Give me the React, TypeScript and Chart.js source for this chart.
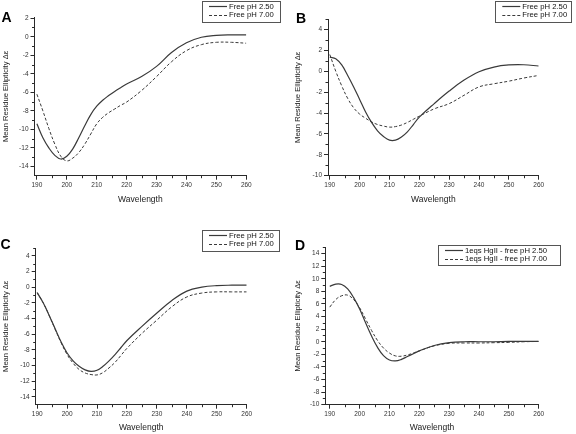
import React, { useEffect, useRef } from "react";
import { Chart, registerables } from "chart.js";

Chart.register(...registerables);

const FONT = "'Liberation Sans', Arial, Helvetica, sans-serif";
Chart.defaults.font.family = FONT;

// ---------------- data ----------------
const wavelengths = [190, 192, 194, 196, 198, 200, 202, 204, 206, 208, 210, 212, 214, 216, 218, 220, 225, 230, 235, 240, 245, 250, 255, 260];

const xTickValues = [190, 200, 210, 220, 230, 240, 250, 260];
const xMinorValues = [195, 205, 215, 225, 235, 245, 255];

const panelAFreePH250 = [-9.4, -10.9, -12.0, -12.8, -13.2, -12.9, -12.1, -10.9, -9.6, -8.4, -7.5, -6.85, -6.35, -5.9, -5.5, -5.1, -4.3, -3.2, -1.7, -0.65, -0.05, 0.15, 0.2, 0.2];
const panelAFreePH700 = [-6.2, -8.0, -9.9, -11.6, -12.9, -13.4, -13.1, -12.5, -11.6, -10.5, -9.4, -8.7, -8.2, -7.8, -7.4, -7.05, -5.8, -4.3, -2.7, -1.5, -0.85, -0.6, -0.6, -0.7];

const panelBFreePH250 = [1.35, 1.2, 0.6, -0.4, -1.5, -2.7, -3.9, -4.9, -5.7, -6.25, -6.6, -6.6, -6.3, -5.8, -5.1, -4.4, -3.1, -1.9, -0.85, -0.05, 0.4, 0.6, 0.62, 0.5];
const panelBFreePH700 = [1.6, 0.0, -1.4, -2.6, -3.5, -4.1, -4.5, -4.85, -5.1, -5.25, -5.35, -5.3, -5.15, -4.9, -4.6, -4.3, -3.6, -3.1, -2.3, -1.5, -1.2, -0.95, -0.65, -0.4];

const panelCFreePH250 = [-0.7, -2.0, -3.6, -5.3, -7.0, -8.4, -9.4, -10.1, -10.55, -10.75, -10.6, -10.1, -9.4, -8.6, -7.7, -6.8, -5.0, -3.3, -1.7, -0.5, 0.0, 0.2, 0.25, 0.25];
const panelCFreePH700 = [-0.7, -2.0, -3.6, -5.4, -7.1, -8.6, -9.7, -10.5, -10.95, -11.15, -11.2, -10.9, -10.3, -9.6, -8.7, -7.8, -5.9, -4.2, -2.5, -1.25, -0.75, -0.6, -0.6, -0.6];

const panelDHgFreePH250 = [8.8, 9.15, 9.1, 8.4, 7.0, 5.2, 3.0, 0.9, -0.9, -2.2, -2.9, -3.05, -2.8, -2.35, -1.9, -1.45, -0.6, -0.15, 0.0, 0.0, 0.0, 0.05, 0.05, 0.05];
const panelDHgFreePH700 = [5.5, 6.7, 7.3, 7.4, 6.7, 5.4, 3.6, 1.8, 0.2, -1.0, -1.8, -2.25, -2.3, -2.1, -1.8, -1.45, -0.65, -0.25, -0.2, -0.2, -0.15, -0.1, 0.0, 0.05];

const yTicksA = [-14, -12, -10, -8, -6, -4, -2, 0, 2];
const yMinorA = [-13, -11, -9, -7, -5, -3, -1, 1];
const yTicksB = [-10, -8, -6, -4, -2, 0, 2, 4];
const yMinorB = [-9, -7, -5, -3, -1, 1, 3, 5];
const yTicksC = [-14, -12, -10, -8, -6, -4, -2, 0, 2, 4];
const yMinorC = [-13, -11, -9, -7, -5, -3, -1, 1, 3, 5];
const yTicksD = [-10, -8, -6, -4, -2, 0, 2, 4, 6, 8, 10, 12, 14];
const yMinorD = [-9, -7, -5, -3, -1, 1, 3, 5, 7, 9, 11, 13, 15];

const labelsFree = ["Free pH 2.50", "Free pH 7.00"];
const labelsHg = ["1eqs HgII - free pH 2.50", "1eqs HgII - free pH 7.00"];

const xAxisTitle = "Wavelength";
const yAxisTitle = "Mean Residue Ellipticity \u0394\u03b5";

// ---------------- layout ----------------
const W = 288;
const H = 217;

const panels = [
  {
    letter: "A", left: 0, top: 0, letterPos: [1.5, 22], xMin: 189.2, yMin: -15, yMax: 2.1,
    yTicks: yTicksA, yMinor: yMinorA, series: [panelAFreePH250, panelAFreePH700], labels: labelsFree,
    area: { left: 34.5, right: 246.3, top: 17.3, bottom: 175.7 }, xTitleGap: 24.3, yTitlePad: 1,
    legend: { x: 202, y: 1, w: 77.5, h: 21 },
  },
  {
    letter: "B", left: 288, top: 0, letterPos: [8, 23], xMin: 189.4, yMin: -10, yMax: 5,
    yTicks: yTicksB, yMinor: yMinorB, series: [panelBFreePH250, panelBFreePH700], labels: labelsFree,
    area: { left: 40, right: 250.7, top: 19, bottom: 175.7 }, xTitleGap: 24.3, yTitlePad: 5.5,
    legend: { x: 207.3, y: 1, w: 75.5, h: 21 },
  },
  {
    letter: "C", left: 0, top: 217, letterPos: [0.5, 32.3], xMin: 189.5, yMin: -15, yMax: 5,
    yTicks: yTicksC, yMinor: yMinorC, series: [panelCFreePH250, panelCFreePH700], labels: labelsFree,
    area: { left: 35.7, right: 246.7, top: 31, bottom: 187.7 }, xTitleGap: 23.3, yTitlePad: 1,
    legend: { x: 202, y: 12.7, w: 77.3, h: 20.6 },
  },
  {
    letter: "D", left: 288, top: 217, letterPos: [7, 33.3], xMin: 188.5, yMin: -10, yMax: 15,
    yTicks: yTicksD, yMinor: yMinorD, series: [panelDHgFreePH250, panelDHgFreePH700], labels: labelsHg,
    area: { left: 37.3, right: 250.7, top: 30.3, bottom: 187.7 }, xTitleGap: 23.3, yTitlePad: 5,
    legend: { x: 150, y: 27.7, w: 122, h: 19.5 },
  },
];

const AXIS_COLOR = "#2a2a2a";
const LINE_COLOR = "#3a3a3a";

// ---------------- plugins ----------------
const decorPlugin = {
  id: "decor",
  afterDraw(chart: any, _args: any, opts: any) {
    const { ctx, chartArea } = chart;
    const xs = chart.scales.x;
    const ys = chart.scales.y;
    ctx.save();
    // minor ticks
    ctx.strokeStyle = AXIS_COLOR;
    ctx.lineWidth = 1;
    ctx.beginPath();
    for (const v of opts.xMinor) {
      const px = Math.round(xs.getPixelForValue(v)) + 0.5;
      ctx.moveTo(px, chartArea.bottom);
      ctx.lineTo(px, chartArea.bottom + 2.5);
    }
    for (const v of opts.yMinor) {
      const py = Math.round(ys.getPixelForValue(v)) + 0.5;
      ctx.moveTo(chartArea.left - 2.5, py);
      ctx.lineTo(chartArea.left, py);
    }
    ctx.stroke();

    // panel letter
    ctx.fillStyle = "#000";
    ctx.font = `bold 14px ${FONT}`;
    ctx.textBaseline = "alphabetic";
    ctx.textAlign = "left";
    ctx.fillText(opts.letter, opts.letterPos[0], opts.letterPos[1]);

    // legend box
    const lg = opts.legend;
    ctx.fillStyle = "#fff";
    ctx.fillRect(lg.x, lg.y, lg.w, lg.h);
    ctx.strokeStyle = "#555";
    ctx.lineWidth = 1;
    ctx.strokeRect(Math.round(lg.x) + 0.5, Math.round(lg.y) + 0.5, Math.round(lg.w), Math.round(lg.h));
    const rows = [lg.y + 5.3, lg.y + 13.8];
    ctx.font = `7.7px ${FONT}`;
    ctx.textBaseline = "middle";
    chart.data.datasets.forEach((ds: any, i: number) => {
      const ry = rows[i];
      ctx.strokeStyle = ds.borderColor;
      ctx.lineWidth = ds.borderWidth;
      ctx.setLineDash(ds.borderDash || []);
      ctx.beginPath();
      ctx.moveTo(lg.x + 7, Math.round(ry) + 0.5);
      ctx.lineTo(lg.x + 25, Math.round(ry) + 0.5);
      ctx.stroke();
      ctx.setLineDash([]);
      ctx.fillStyle = "#111";
      ctx.fillText(ds.label, lg.x + 27, ry + 0.5);
    });
    ctx.restore();
  },
};

function Panel({ cfg }: { cfg: any }) {
  const ref = useRef<HTMLCanvasElement | null>(null);
  useEffect(() => {
    if (!ref.current) return;
    const a = cfg.area;
    const xTitleSize = 8.5;
    const yTitleSize = 7.6;
    const xTitlePadBottom = H - (a.bottom + cfg.xTitleGap) - (xTitleSize * 1.2) / 2;
    const chart = new Chart(ref.current, {
      type: "line",
      data: {
        datasets: cfg.series.map((vals: number[], i: number) => ({
          label: cfg.labels[i],
          data: wavelengths.map((w, k) => ({ x: w, y: vals[k] })),
          borderColor: LINE_COLOR,
          borderWidth: i === 0 ? 1.2 : 1,
          borderDash: i === 0 ? [] : [3, 2],
          pointRadius: 0,
          fill: false,
          tension: 0.4,
        })),
      },
      options: {
        animation: false,
        responsive: false,
        maintainAspectRatio: false,
        layout: { padding: { left: 0, top: a.top, right: W - a.right, bottom: 0 } },
        plugins: {
          legend: { display: false },
          tooltip: { enabled: false },
          decor: {
            xMinor: xMinorValues,
            yMinor: cfg.yMinor,
            letter: cfg.letter,
            letterPos: cfg.letterPos,
            legend: cfg.legend,
          },
        } as any,
        scales: {
          x: {
            type: "linear",
            min: cfg.xMin,
            max: 260,
            afterBuildTicks: (s: any) => {
              s.ticks = xTickValues.map((v) => ({ value: v }));
            },
            afterFit: (s: any) => {
              s.height = H - a.bottom;
            },
            grid: { display: true, drawOnChartArea: false, drawTicks: true, tickLength: 4, color: AXIS_COLOR, lineWidth: 1 },
            border: { display: true, color: AXIS_COLOR, width: 1 },
            ticks: { font: { size: 6.5, family: FONT }, color: "#333", padding: 2, maxRotation: 0, autoSkip: false },
            title: {
              display: true,
              text: xAxisTitle,
              color: "#222",
              font: { size: xTitleSize, family: FONT },
              padding: { top: 0, bottom: xTitlePadBottom },
            },
          },
          y: {
            type: "linear",
            min: cfg.yMin,
            max: cfg.yMax,
            afterBuildTicks: (s: any) => {
              s.ticks = cfg.yTicks.map((v: number) => ({ value: v }));
            },
            afterFit: (s: any) => {
              s.width = a.left;
            },
            grid: { display: true, drawOnChartArea: false, drawTicks: true, tickLength: 4, color: AXIS_COLOR, lineWidth: 1 },
            border: { display: true, color: AXIS_COLOR, width: 1 },
            ticks: { font: { size: 6.5, family: FONT }, color: "#333", padding: 2, autoSkip: false },
            title: {
              display: true,
              text: yAxisTitle,
              color: "#222",
              font: { size: yTitleSize, family: FONT },
              padding: { top: cfg.yTitlePad, bottom: 0 },
            },
          },
        },
      } as any,
      plugins: [decorPlugin as any],
    });
    return () => chart.destroy();
  }, [cfg]);
  return (
    <canvas
      ref={ref}
      width={W}
      height={H}
      style={{ position: "absolute", left: cfg.left, top: cfg.top, width: W, height: H }}
    />
  );
}

export default function App() {
  return (
    <div style={{ position: "fixed", left: 0, top: 0, width: 576, height: 434, background: "#fff", overflow: "hidden" }}>
      {panels.map((p) => (
        <Panel key={p.letter} cfg={p} />
      ))}
    </div>
  );
}
